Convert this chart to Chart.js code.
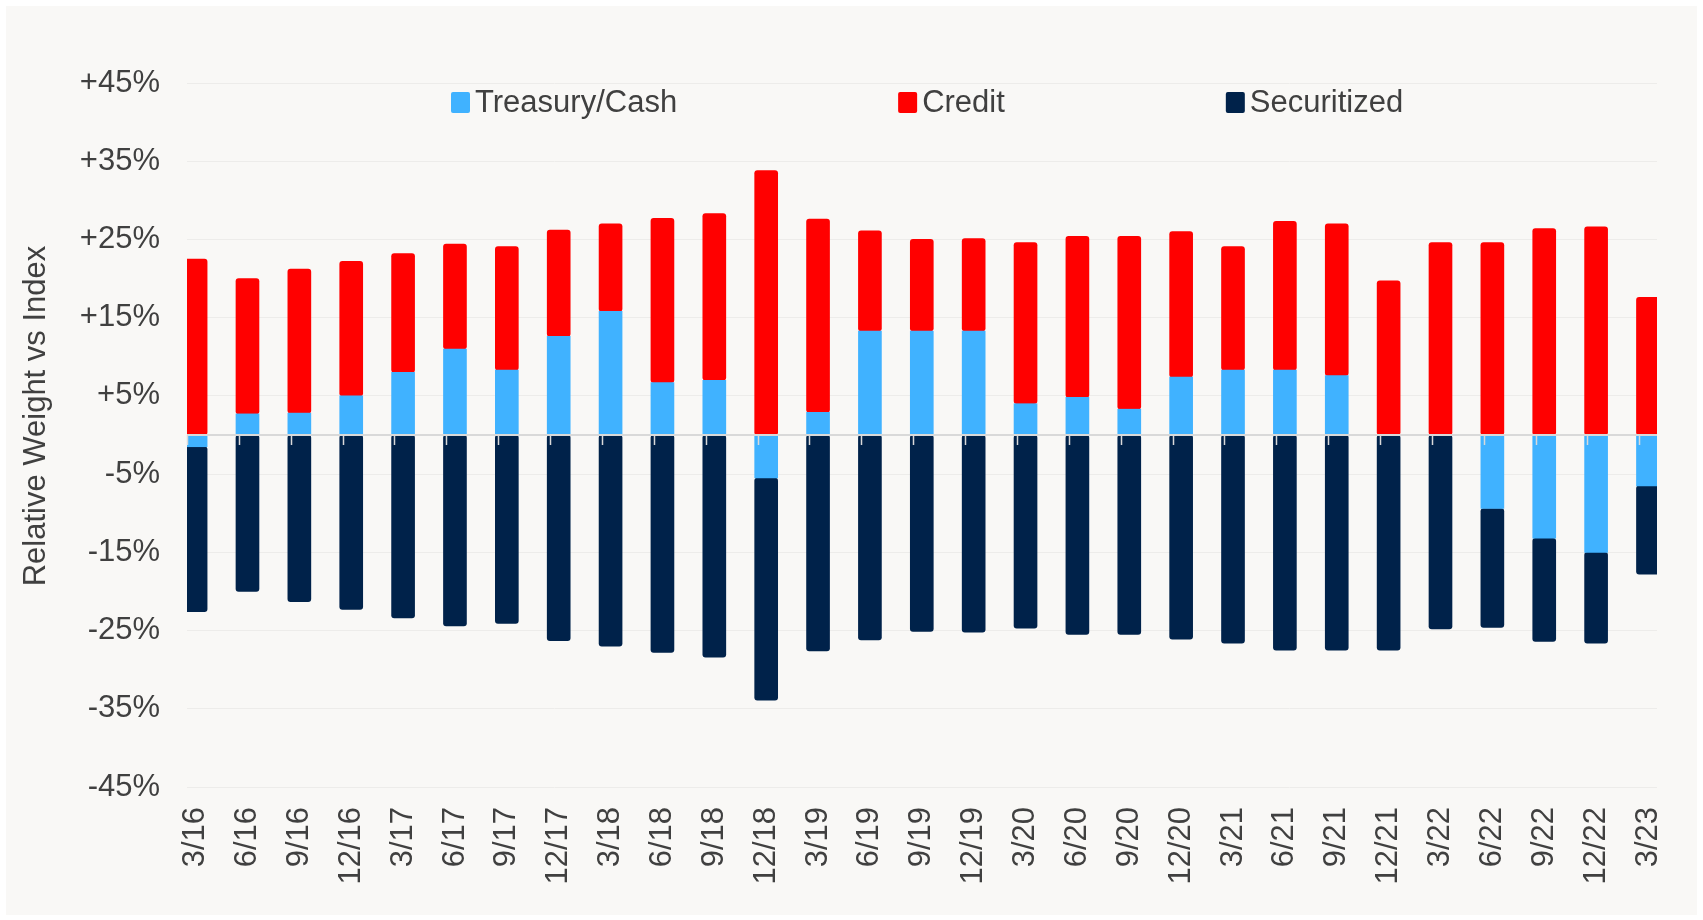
<!DOCTYPE html>
<html>
<head>
<meta charset="utf-8">
<title>Relative Weight vs Index</title>
<script src="https://cdn.jsdelivr.net/npm/chart.js@4.4.1/dist/chart.umd.min.js"></script>
<style>
  html, body { margin: 0; padding: 0; background: #ffffff; }
  #wrap { position: absolute; left: 6px; top: 6px; width: 1691px; height: 909px; background: #f9f8f6; }
  canvas { display: block; }
</style>
</head>
<body>
<div id="wrap"><canvas id="chart" width="1691" height="909"></canvas></div>
<script>
// Quarter-end labels (month/year)
const quarters = ['3/16','6/16','9/16','12/16','3/17','6/17','9/17','12/17','3/18','6/18','9/18','12/18',
                  '3/19','6/19','9/19','12/19','3/20','6/20','9/20','12/20','3/21','6/21','9/21','12/21',
                  '3/22','6/22','9/22','12/22','3/23'];

// Relative weight vs index, in percentage points
const treasuryCash = [-1.5, 2.7, 2.8, 5.0, 8.0, 11.0, 8.3, 12.6, 15.8, 6.7, 7.0, -5.5,
                      2.9, 13.3, 13.3, 13.3, 4.0, 4.8, 3.3, 7.4, 8.3, 8.3, 7.6, 0.0,
                      0.0, -9.4, -13.2, -15.0, -6.5];
const credit = [22.5, 17.3, 18.4, 17.2, 15.2, 13.4, 15.8, 13.6, 11.2, 21.0, 21.3, 33.8,
                24.7, 12.8, 11.7, 11.8, 20.6, 20.6, 22.1, 18.6, 15.8, 19.0, 19.4, 19.7,
                24.6, 24.6, 26.4, 26.6, 17.6];
const securitized = [-21.1, -20.0, -21.3, -22.3, -23.4, -24.4, -24.1, -26.3, -27.0, -27.8, -28.4, -28.4,
                     -27.6, -26.2, -25.1, -25.2, -24.7, -25.5, -25.5, -26.1, -26.6, -27.5, -27.5, -27.5,
                     -24.8, -15.2, -13.2, -11.6, -11.3];

const yTickValues = [-45, -35, -25, -15, -5, 5, 15, 25, 35, 45];
const seriesNames = ['Treasury/Cash', 'Credit', 'Securitized'];
const yAxisTitle = 'Relative Weight vs Index';

const seriesColors = ['#40b2ff', '#ff0000', '#00224a'];
const FONT = 'Arial, "Liberation Sans", sans-serif';
const TEXT = '#404040';
const TICK_SHIFT = 0.166;   // category ticks sit slightly left of each bar centre

const toPoints = arr => arr.map((v, i) => ({ x: i, y: v }));

const overlay = {
  id: 'overlay',
  afterDatasetsDraw(chart) {
    const { ctx, chartArea: a, scales: { x, y } } = chart;
    const y0 = Math.round(y.getPixelForValue(0));
    ctx.save();
    ctx.strokeStyle = '#d9d9d9';
    // horizontal axis line at zero
    ctx.lineWidth = 2;
    ctx.beginPath();
    ctx.moveTo(a.left, y0);
    ctx.lineTo(a.right, y0);
    ctx.stroke();
    // small category tick marks hanging below the zero line
    ctx.lineWidth = 1.5;
    quarters.forEach((q, i) => {
      const px = Math.round(x.getPixelForValue(i - TICK_SHIFT)) + 0.5;
      ctx.beginPath();
      ctx.moveTo(px, y0);
      ctx.lineTo(px, y0 + 10);
      ctx.stroke();
    });
    ctx.restore();
  },
  afterDraw(chart) {
    const { ctx, chartArea: a } = chart;
    ctx.save();
    // legend row inside the plot area
    ctx.font = '31px ' + FONT;
    ctx.textBaseline = 'middle';
    ctx.textAlign = 'left';
    let lx = a.left + 264;
    const ly = a.top + 19;
    chart.data.datasets.forEach(ds => {
      ctx.fillStyle = ds.backgroundColor;
      ctx.beginPath();
      ctx.roundRect(lx, ly - 10, 19, 21, 2);
      ctx.fill();
      ctx.fillStyle = TEXT;
      ctx.fillText(ds.label, lx + 24, ly + 1);
      lx += 24 + ctx.measureText(ds.label).width + 221;
    });
    // vertical axis title
    ctx.translate(30, (a.top + a.bottom) / 2 - 19);
    ctx.rotate(-Math.PI / 2);
    ctx.textAlign = 'center';
    ctx.font = '31px ' + FONT;
    ctx.fillStyle = TEXT;
    ctx.fillText(yAxisTitle, 0, 0);
    ctx.restore();
  }
};

const datasets = [treasuryCash, credit, securitized].map((vals, k) => ({
  label: seriesNames[k],
  data: toPoints(vals),
  backgroundColor: seriesColors[k],
  borderWidth: 0,
  borderRadius: 3,
  borderSkipped: false,
  barThickness: 23
}));

new Chart(document.getElementById('chart'), {
  type: 'bar',
  data: { datasets },
  plugins: [overlay],
  options: {
    responsive: false,
    animation: false,
    layout: { padding: { top: 77, right: 40, left: 0, bottom: 0 } },
    plugins: { legend: { display: false }, tooltip: { enabled: false } },
    scales: {
      x: {
        type: 'linear',
        stacked: true,
        offset: false,
        min: -TICK_SHIFT,
        max: quarters.length - 1 + 0.174,
        afterBuildTicks: s => { s.ticks = quarters.map((q, i) => ({ value: i })); },
        afterFit: s => { s.height = 128; s.paddingLeft = 0; s.paddingRight = 0; },
        grid: { display: false, drawTicks: false, offset: false },
        border: { display: false },
        ticks: {
          autoSkip: false, maxRotation: 90, minRotation: 90, padding: 20,
          color: TEXT, font: { family: FONT, size: 31 },
          callback: v => quarters[v]
        }
      },
      y: {
        stacked: true,
        min: -45, max: 45,
        afterBuildTicks: s => { s.ticks = yTickValues.map(v => ({ value: v })); },
        afterFit: s => { s.width = 181; },
        grid: { color: '#edecea', lineWidth: 1, drawTicks: false },
        border: { display: false },
        ticks: {
          padding: 27, color: TEXT, font: { family: FONT, size: 31 },
          callback: v => (v > 0 ? '+' : '') + v + '%'
        }
      }
    }
  }
});
</script>
</body>
</html>
